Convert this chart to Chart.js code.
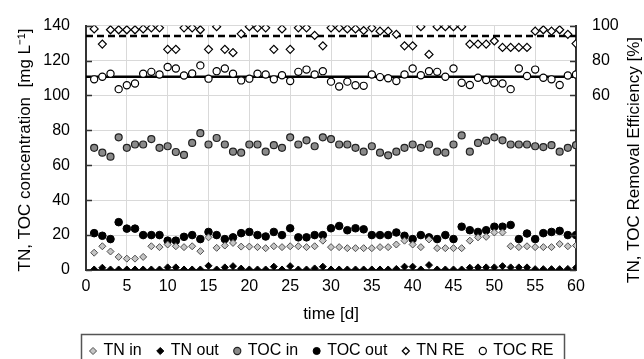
<!DOCTYPE html>
<html><head><meta charset="utf-8">
<script src="https://cdn.jsdelivr.net/npm/chart.js@4.4.0/dist/chart.umd.min.js"></script>
<style>html,body{margin:0;padding:0;background:#fff;}#wrap{width:644px;height:359px;}</style>
</head><body><div id="wrap"><canvas id="c" width="644" height="359"></canvas></div>
<script>
const days = [1,2,3,4,5,6,7,8,9,10,11,12,13,14,15,16,17,18,19,20,21,22,23,24,25,26,27,28,29,30,31,32,33,34,35,36,37,38,39,40,41,42,43,44,45,46,47,48,49,50,51,52,53,54,55,56,57,58,59,60];
const tnIn = [9.9,13.6,10.6,7.5,6.5,6.5,7.5,13.6,13.1,14.6, 13.6,13.1,13.6,10.8,18.7,12.7,14.0,15.5,13.4,13.4, 13.1,12.5,13.6,13.1,13.6,13.6,13.1,13.6,16.8,13.1, 13.1,12.5,12.5,12.5,12.5,13.1,13.1,14.6,16.8,14.6, 13.1,17.5,12.5,12.5,12.5,12.5,16.8,18.7,19.0,21.5, 21.5,13.6,13.1,13.6,13.1,13.1,13.1,14.9,13.6,14.0];
const tnOut = [0.3,1.3,0.3,0.3,0.3,0.3,0.3,0.3,0.3,1.5, 1.5,0.3,0.3,0.3,2.4,0.3,1.5,2.2,0.8,0.3, 0.3,0.3,1.9,0.3,2.2,0.3,0.3,0.9,1.9,0.3, 0.3,0.3,0.3,0.3,0.3,0.3,0.3,0.6,1.9,1.9, 0.3,2.8,0.3,0.3,0.3,0.3,1.3,1.5,1.5,1.5, 2.2,1.5,1.5,1.5,0.5,0.5,0.5,0.5,0.6,1.3];
const tocIn = [70.0,67.2,64.9,76.0,70.0,71.9,71.9,75.0,70.0,70.9, 67.6,65.9,72.8,78.4,71.9,75.6,71.9,67.8,67.2,71.9, 71.9,67.8,71.5,70.0,76.0,71.9,74.3,70.9,76.0,75.0, 71.9,71.9,70.0,67.8,70.9,67.2,65.7,67.8,70.0,71.9, 70.0,71.9,67.8,67.2,71.9,77.1,67.8,72.8,74.1,76.0, 74.3,71.9,71.9,71.9,70.9,70.4,71.5,67.8,70.0,71.5];
const tocOut = [21.1,19.6,17.7,27.4,23.7,23.7,20.0,20.0,20.0,16.8, 16.8,19.0,20.0,17.7,21.8,20.0,17.7,18.7,21.1,21.8, 20.0,19.2,21.8,20.0,23.9,18.7,18.7,20.0,20.0,23.9, 25.2,22.8,23.9,23.3,20.0,20.0,20.0,21.5,19.6,17.7, 20.0,18.7,17.7,20.0,17.7,24.8,22.8,21.8,22.8,24.8, 24.8,25.8,17.7,20.9,17.7,21.1,21.8,22.4,20.0,20.0];
const tnRE = [98.1,89.4,97.6,97.6,97.6,97.6,98.1,98.7,98.7,86.4, 86.4,98.7,98.7,97.6,86.4,99.4,86.4,84.5,95.3,99.4, 98.7,98.7,86.4,98.1,86.4,98.7,98.7,94.4,88.4,98.7, 98.7,98.1,98.1,97.2,98.7,96.8,96.8,95.0,88.4,88.4, 99.4,83.5,99.4,99.4,99.4,99.4,89.4,89.4,89.4,91.2, 87.5,87.5,87.5,87.5,96.8,97.6,96.8,97.6,95.0,89.7];
const tocRE = [69.2,70.7,72.4,63.6,65.8,66.8,72.4,73.5,72.0,76.3, 75.4,71.4,72.6,77.2,69.6,73.9,75.4,72.4,68.6,69.6, 72.4,72.0,69.2,71.6,68.3,73.5,74.8,72.0,73.9,67.9, 65.1,67.9,65.8,65.5,72.0,70.5,69.8,68.3,72.0,75.4, 71.6,73.9,73.5,70.7,75.4,67.3,66.0,70.1,68.8,67.3, 66.8,63.6,75.4,71.1,74.8,70.1,69.2,66.0,71.4,72.0];
const meanDays = [0, 60];
const tnREMean = [94.0, 94.0];
const tocREMean = [70.7, 70.7];
const rightLabelValues = [60, 80, 100];
const leftTitle = 'TN, TOC concentration  [mg L\u207B\u00B9]';
const rightTitle = 'TN, TOC Removal Efficiency [%]';

const FONT = "'Liberation Sans', Arial, sans-serif";
Chart.defaults.font.family = FONT;
Chart.defaults.font.size = 16;
Chart.defaults.color = '#000';

const pts = (ys, xs) => ys.map((y, i) => ({x: xs[i], y}));

const deco = {
  id: 'deco',
  afterDraw(chart) {
    const {ctx, chartArea: a, scales} = chart;
    ctx.save();
    ctx.strokeStyle = '#333';
    ctx.lineWidth = 1.5;
    ctx.beginPath();
    scales.y.ticks.forEach(t => {
      const y = Math.round(scales.y.getPixelForValue(t.value)) + 0.5;
      ctx.moveTo(a.left, y); ctx.lineTo(a.left + 6, y);
    });
    scales.y1.ticks.forEach(t => {
      const y = Math.round(scales.y1.getPixelForValue(t.value)) + 0.5;
      ctx.moveTo(a.right - 6, y); ctx.lineTo(a.right, y);
    });
    ctx.stroke();
    // axis titles (both read bottom to top)
    ctx.font = '17px ' + FONT;
    ctx.fillStyle = '#000';
    ctx.textAlign = 'center';
    ctx.textBaseline = 'middle';
    ctx.save();
    ctx.translate(25, 150);
    ctx.rotate(-Math.PI / 2);
    ctx.fillText(leftTitle, 0, 0);
    ctx.restore();
    ctx.save();
    ctx.translate(634, 160);
    ctx.rotate(-Math.PI / 2);
    ctx.fillText(rightTitle, 0, 0);
    ctx.restore();
    // legend frame
    const hb = chart.legend.legendHitBoxes;
    if (hb && hb.length) {
      const l = hb[0].left - 10;
      const r = hb[hb.length - 1].left + hb[hb.length - 1].width + 10;
      const t = hb[0].top - 9;
      ctx.strokeStyle = '#555';
      ctx.lineWidth = 1.5;
      ctx.strokeRect(Math.round(l) + 0.5, Math.round(t) + 0.5, Math.round(r - l), 40);
    }
    ctx.restore();
  }
};

new Chart(document.getElementById('c'), {
  type: 'scatter',
  data: {
    datasets: [
      {label: 'TN in', data: pts(tnIn, days), pointStyle: 'rectRot', pointRadius: 3.5, backgroundColor: '#c4c4c4', borderColor: '#4d4d4d', borderWidth: 1, order: 1, yAxisID: 'y'},
      {label: 'TN out', data: pts(tnOut, days), pointStyle: 'rectRot', pointRadius: 3.5, backgroundColor: '#000', borderColor: '#000', borderWidth: 1, order: 2, yAxisID: 'y'},
      {label: 'TOC in', data: pts(tocIn, days), pointStyle: 'circle', pointRadius: 3.5, backgroundColor: '#8a8a8a', borderColor: '#222', borderWidth: 1.2, order: 3, yAxisID: 'y'},
      {label: 'TOC out', data: pts(tocOut, days), pointStyle: 'circle', pointRadius: 3.8, backgroundColor: '#000', borderColor: '#000', borderWidth: 1, order: 4, yAxisID: 'y'},
      {label: 'TN RE', data: pts(tnRE, days), pointStyle: 'rectRot', pointRadius: 4, backgroundColor: '#fff', borderColor: '#000', borderWidth: 1.2, order: 5, yAxisID: 'y1'},
      {label: 'TOC RE', data: pts(tocRE, days), pointStyle: 'circle', pointRadius: 3.6, backgroundColor: '#fff', borderColor: '#000', borderWidth: 1.2, order: 6, yAxisID: 'y1'},
      {label: 'TN RE mean', data: pts(tnREMean, meanDays), showLine: true, pointRadius: 0, borderColor: '#000', borderWidth: 2.5, borderDash: [7, 4], order: 10, yAxisID: 'y1'},
      {label: 'TOC RE mean', data: pts(tocREMean, meanDays), showLine: true, pointRadius: 0, borderColor: '#000', borderWidth: 2.5, order: 11, yAxisID: 'y1'}
    ]
  },
  options: {
    responsive: false,
    animation: false,
    devicePixelRatio: 1,
    layout: {padding: {left: 0, right: 0, top: 20, bottom: -10}},
    plugins: {
      tooltip: {enabled: false},
      legend: {
        position: 'bottom',
        labels: {
          usePointStyle: true, boxWidth: 5, boxHeight: 5, padding: 16,
          font: {size: 16},
          filter: (item) => !item.text.includes('mean')
        }
      }
    },
    scales: {
      x: {
        type: 'linear', min: 0, max: 60,
        ticks: {stepSize: 5, padding: 7, font: {size: 16}},
        grid: {color: '#d9d9d9', drawTicks: false},
        border: {color: '#333', width: 2},
        title: {display: true, text: 'time [d]', font: {size: 17}, padding: {top: 0, bottom: 2}},
        afterFit: (s) => { s.height = 57; }
      },
      y: {
        position: 'left', min: 0, max: 140,
        ticks: {stepSize: 20, padding: 16, font: {size: 16}},
        grid: {color: '#d9d9d9', drawTicks: false},
        border: {color: '#333', width: 2},
        afterFit: (s) => { s.width = 86; }
      },
      y1: {
        position: 'right', min: -40, max: 100,
        ticks: {stepSize: 20, padding: 16, font: {size: 16},
          callback: (v) => rightLabelValues.includes(v) ? String(v) : ''},
        grid: {drawOnChartArea: false, drawTicks: false},
        border: {color: '#333', width: 2},
        afterFit: (s) => { s.width = 68; }
      }
    }
  },
  plugins: [deco]
});
</script>
</body></html>
